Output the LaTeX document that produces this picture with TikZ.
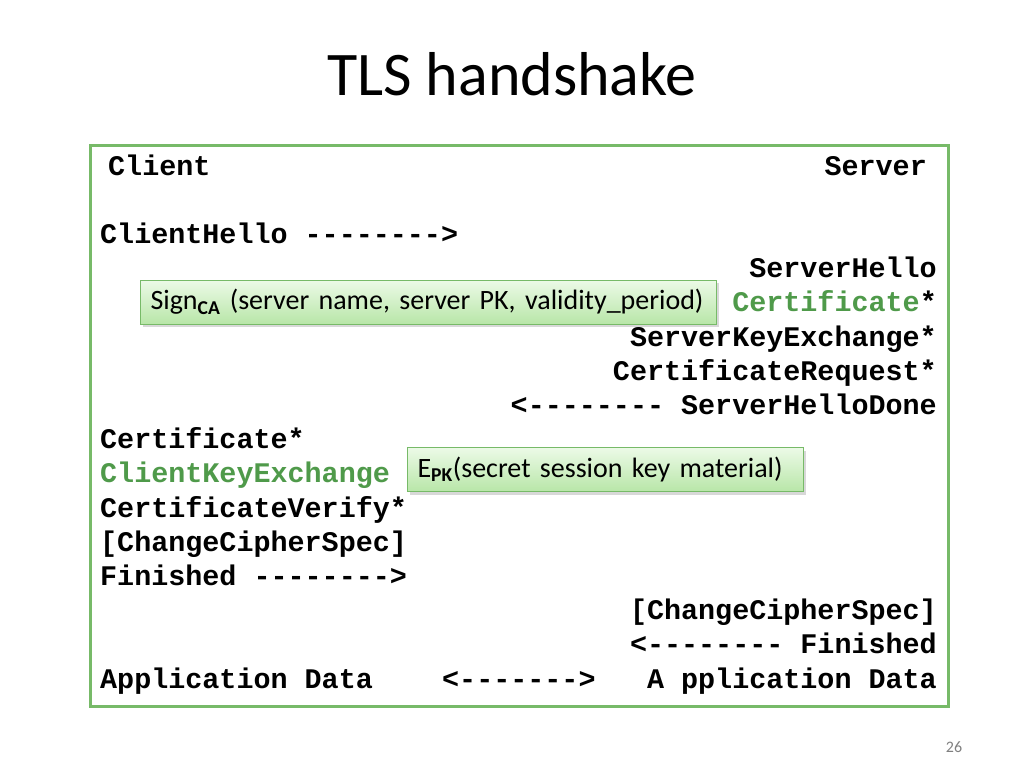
\documentclass[tikz,border=0pt]{standalone}
\usepackage{fontspec}
\setmainfont{Carlito}
\setmonofont{Liberation Mono}
\usetikzlibrary{shadows}
\definecolor{framegreen}{RGB}{119,186,104}
\definecolor{keygreen}{RGB}{79,154,74}
\definecolor{notetop}{RGB}{236,250,231}
\definecolor{notebot}{RGB}{184,230,168}

\begin{document}
\begin{tikzpicture}[x=1pt,y=-1pt,
    msg/.style={inner sep=0pt,font=\fontsize{28.4}{34}\selectfont\ttfamily\bfseries},
    lmsg/.style={msg,anchor=base west},
    rmsg/.style={msg,anchor=base east},
    note/.style={draw=framegreen,line width=1pt,top color=notetop,bottom color=notebot,
        drop shadow={shadow xshift=2pt,shadow yshift=-3pt,opacity=0.3},
        anchor=west,minimum height=44pt,inner xsep=10pt,align=left,
        font=\fontsize{28}{30}\selectfont}]
    \useasboundingbox[fill=white] (0,0) rectangle (1024,768);

    \node[font=\fontsize{62}{70}\selectfont,anchor=base] (title) at (512,95) {TLS handshake};
    \node[draw=framegreen,line width=3pt,minimum width=858pt,minimum height=561pt] (frame) at (519,425.5) {};

    % client and server columns
    \node[lmsg] (client) at (108,175) {Client};
    \node[rmsg] (server) at (927,175) {Server};
    \node[lmsg] (chello) at (100,243.4) {ClientHello -{}-{}-{}-{}-{}-{}-{}->};
    \node[rmsg] (shello) at (937,277.6) {ServerHello};
    \node[rmsg] (scert) at (937,311.8) {\textcolor{keygreen}{Certificate}*};
    \node[rmsg] (skex) at (937,346) {ServerKeyExchange*};
    \node[rmsg] (creq) at (937,380.2) {CertificateRequest*};
    \node[rmsg] (sdone) at (937,414.4) {<-{}-{}-{}-{}-{}-{}-{}- ServerHelloDone};
    \node[lmsg] (ccert) at (100,448.6) {Certificate*};
    \node[lmsg,text=keygreen] (ckex) at (100,482.8) {ClientKeyExchange};
    \node[lmsg] (cverify) at (100,517) {CertificateVerify*};
    \node[lmsg] (cccs) at (100,551.2) {[ChangeCipherSpec]};
    \node[lmsg] (cfin) at (100,585.4) {Finished -{}-{}-{}-{}-{}-{}-{}->};
    \node[rmsg] (sccs) at (937,619.6) {[ChangeCipherSpec]};
    \node[rmsg] (sfin) at (937,653.8) {<-{}-{}-{}-{}-{}-{}-{}- Finished};
    \node[lmsg] (capp) at (100,688) {Application Data};
    \node[lmsg] (both) at (442,688) {<-{}-{}-{}-{}-{}-{}->};
    \node[rmsg] (sapp) at (937,688) {A pplication Data};

    % callouts
    \node[note,text width=556pt] (signca) at (140,302) {Sign\textsubscript{\textbf{CA}} (server name, server PK, validity\_period)};
    \node[note,text width=376pt] (epk) at (407,469.5) {E\textsubscript{\textbf{PK}}(secret session key material)};

    \node[font=\fontsize{16}{18}\selectfont,text=gray] (page) at (954,747) {26};
\end{tikzpicture}
\end{document}
